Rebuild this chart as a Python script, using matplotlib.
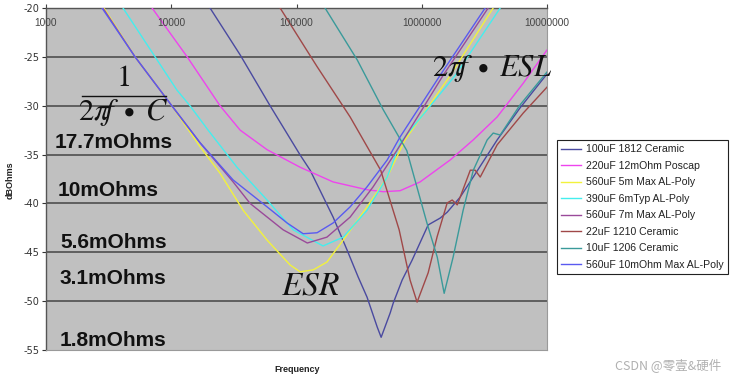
import matplotlib
matplotlib.use("Agg")
import matplotlib.pyplot as plt
from matplotlib.lines import Line2D

plt.rcParams['mathtext.fontset'] = 'stix'

W, H = 731, 381

# ---------------- data (frequency in Hz, impedance in dBOhms) ----------------
labels = ["100uF 1812 Ceramic", "220uF 12mOhm Poscap", "560uF 5m Max AL-Poly",
          "390uF 6mTyp AL-Poly", "560uF 7m Max AL-Poly", "22uF 1210 Ceramic",
          "10uF 1206 Ceramic", "560uF 10mOhm Max AL-Poly"]

f_100u_1812 = [20400, 35500, 61500, 107000, 128500, 196000, 253000, 310000, 366000, 441000,
               474000, 560000, 592000, 697000, 838000, 1125000, 1403000, 1596000, 2028000,
               2576000, 4000000, 6110000, 10000000]
z_100u_1812 = [-20.0, -24.8, -30.0, -35.05, -36.6, -41.4, -44.75, -47.5, -49.6, -52.65,
               -53.7, -51.2, -50.2, -47.85, -45.8, -42.2, -41.5, -40.9, -39.35,
               -37.3, -33.5, -30.2, -26.75]

f_220u_poscap = [7030, 13400, 24500, 35500, 58200, 107000, 196000, 366000, 492000, 671000,
                 970000, 1687000, 2576000, 4000000, 6460000, 10000000]
z_220u_poscap = [-20.0, -25.0, -30.0, -32.5, -34.5, -36.3, -37.8, -38.6, -38.8, -38.7,
                 -37.8, -35.55, -33.5, -31.15, -27.7, -24.3]

f_560u_5m = [2900, 5140, 10100, 17000, 24500, 37500, 58200, 88900, 107000, 136000,
             175000, 236000, 366000, 530000, 736000, 1690000, 3715000]
z_560u_5m = [-20.0, -25.0, -30.0, -34.2, -36.9, -40.7, -43.75, -46.3, -47.0, -46.8,
             -46.0, -43.75, -40.35, -37.3, -33.5, -26.9, -20.0]

f_390u_6m = [4120, 7430, 11100, 14100, 19700, 33500, 58200, 94000, 163000, 236000,
             366000, 530000, 671000, 1850000, 4230000]
z_390u_6m = [-20.0, -25.0, -28.4, -30.0, -32.5, -36.3, -39.65, -42.7, -44.35, -43.45,
             -40.7, -37.3, -33.8, -26.9, -20.0]

f_560u_7m = [2850, 5140, 10100, 17000, 31200, 42600, 78200, 122000, 175000, 268000,
             409000, 635000, 1480000, 3390000]
z_560u_7m = [-20.0, -25.0, -30.0, -33.8, -37.8, -40.0, -42.7, -44.05, -43.45, -41.4,
             -38.3, -34.55, -26.9, -20.0]

f_22u_1210 = [74000, 146000, 268000, 470000, 660000, 807000, 918000, 1125000, 1327000,
              1596000, 1750000, 1920000, 2440000, 2670000, 2930000, 4000000, 6460000, 10000000]
z_22u_1210 = [-20.0, -26.0, -31.15, -36.6, -42.7, -47.85, -50.1, -47.1, -43.4,
              -39.95, -39.65, -40.15, -36.6, -36.6, -37.3, -34.0, -30.75, -28.1]

f_10u_1206 = [169000, 305000, 492000, 760000, 1100000, 1330000, 1510000, 1780000, 2140000,
              2580000, 3330000, 3720000, 4230000, 6110000, 10000000]
z_10u_1206 = [-20.0, -25.3, -30.4, -34.6, -42.0, -45.5, -49.2, -45.5, -40.7,
              -36.6, -33.5, -32.8, -33.0, -29.9, -26.55]

f_560u_10m = [2800, 5140, 10100, 17000, 31200, 58200, 84100, 113000, 146000, 196000,
              268000, 366000, 530000, 671000, 1400000, 3210000]
z_560u_10m = [-20.0, -25.0, -30.0, -33.8, -37.6, -40.35, -42.0, -43.1, -43.0, -42.0,
              -40.35, -38.3, -35.55, -33.2, -26.9, -20.0]

series_f = [f_100u_1812, f_220u_poscap, f_560u_5m, f_390u_6m, f_560u_7m, f_22u_1210,
            f_10u_1206, f_560u_10m]
series_z = [z_100u_1812, z_220u_poscap, z_560u_5m, z_390u_6m, z_560u_7m, z_22u_1210,
            z_10u_1206, z_560u_10m]
colors = ['#4a4aa0', '#ee44ee', '#f2f23c', '#44eeee', '#9a4a9a', '#a04848', '#3a9a9a', '#5a5af0']

x_ticks = [1000, 10000, 100000, 1000000, 10000000]
x_tick_labels = ["1000", "10000", "100000", "1000000", "10000000"]
y_ticks = [-20, -25, -30, -35, -40, -45, -50, -55]

esr_labels = ["17.7mOhms", "10mOhms", "5.6mOhms", "3.1mOhms", "1.8mOhms"]

# ---------------- figure ----------------
fig = plt.figure(figsize=(W / 100, H / 100), dpi=100)
fig.patch.set_facecolor('white')

def fx(px):
    return px / W

def fy(py):
    return 1 - py / H

ax = fig.add_axes([fx(46), fy(350), fx(547) - fx(46), fy(8) - fy(350)])
ax.set_facecolor('#c0c0c0')
ax.set_xscale('log')
ax.set_xlim(1000, 10000000)
ax.set_ylim(-55, -20)

for yv in y_ticks[1:-1]:
    ax.axhline(yv, color='#454545', lw=1.1, zorder=1)

for fs, zs, c, lab in zip(series_f, series_z, colors, labels):
    ax.plot(fs, zs, color=c, lw=1.0, label=lab, zorder=3, solid_joinstyle='round')

ax.set_yticks(y_ticks)
ax.set_yticklabels([str(v) for v in y_ticks])
ax.tick_params(axis='y', direction='out', length=3, width=0.8, colors='#333333',
               labelsize=7, pad=2)
ax.set_xticks(x_ticks)
ax.set_xticklabels([])
ax.minorticks_off()
ax.xaxis.set_ticks_position('top')
ax.tick_params(axis='x', direction='out', length=3, width=0.8, colors='#444444')
for xv, xl in zip(x_ticks, x_tick_labels):
    ax.text(xv, -21.55, xl, ha='center', va='center', fontsize=7.3, color='#444444',
            family='Liberation Sans', zorder=4)

for s in ['left', 'top']:
    ax.spines[s].set_color('#555555')
    ax.spines[s].set_linewidth(1.0)
for s in ['right', 'bottom']:
    ax.spines[s].set_color('#9a9a9a')
    ax.spines[s].set_linewidth(0.8)

# axis titles
fig.text(fx(10), fy(180), "dBOhms", rotation=90, ha='center', va='center',
         fontsize=6.5, fontweight='bold', family='Liberation Sans', color='#222222')
fig.text(fx(297), fy(369), "Frequency", ha='center', va='center',
         fontsize=6.5, fontweight='bold', family='Liberation Sans', color='#222222')

# ESR level labels
esr_pos = [(55, 143), (58, 190), (60, 243), (60, 278), (60, 341)]
for t, (px, py) in zip(esr_labels, esr_pos):
    fig.text(fx(px), fy(py), t, ha='left', va='center', fontsize=15, fontweight='bold',
             family='Liberation Sans', color='#111111')

# formulas
fig.text(fx(123), fy(77), r'$1$', ha='center', va='center', fontsize=22, color='#111111')
fig.add_artist(Line2D([fx(82), fx(166)], [fy(96), fy(96)], color='#111111', lw=1.0))
fig.text(fx(123), fy(113), r'$2\pi\!f\;\bullet\;C$', ha='center', va='center',
         fontsize=22, color='#111111')
fig.text(fx(492), fy(69), r'$2\pi\!f\;\bullet\;ESL$', ha='center', va='center',
         fontsize=22, color='#111111')
fig.text(fx(310), fy(285), r'$ESR$', ha='center', va='center', fontsize=24, color='#111111')

# legend
leg = ax.legend(loc='upper left', bbox_to_anchor=(fx(557), fy(140)),
                bbox_transform=fig.transFigure, fontsize=7.6, frameon=True,
                fancybox=False, edgecolor='#222222', framealpha=1, facecolor='white',
                handlelength=1.9, handletextpad=0.45, labelspacing=0.62,
                borderpad=0.4, borderaxespad=0)
for t in leg.get_texts():
    t.set_family('Liberation Sans')
    t.set_color('#222222')
leg.get_frame().set_linewidth(0.8)

# watermark
fig.text(fx(668), fy(366), "CSDN @零壹&硬件", ha='center', va='center', fontsize=9,
         color='#b0b0b0', family=['Noto Sans CJK SC', 'DejaVu Sans'])

fig.savefig('out.png', dpi=100)
